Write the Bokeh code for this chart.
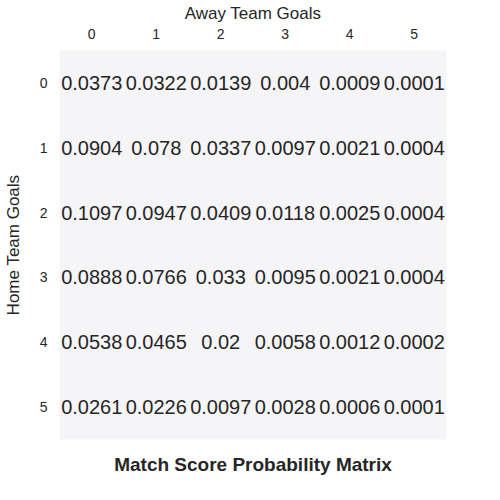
from bokeh.plotting import figure
from bokeh.models import ColumnDataSource, FactorRange
from bokeh.core.properties import value
from bokeh.embed import file_html
from bokeh.resources import INLINE

home_goals = ['0', '1', '2', '3', '4', '5']
away_goals = ['0', '1', '2', '3', '4', '5']
probs = [
    [0.0373, 0.0322, 0.0139, 0.004, 0.0009, 0.0001],
    [0.0904, 0.078, 0.0337, 0.0097, 0.0021, 0.0004],
    [0.1097, 0.0947, 0.0409, 0.0118, 0.0025, 0.0004],
    [0.0888, 0.0766, 0.033, 0.0095, 0.0021, 0.0004],
    [0.0538, 0.0465, 0.02, 0.0058, 0.0012, 0.0002],
    [0.0261, 0.0226, 0.0097, 0.0028, 0.0006, 0.0001],
]

xs, ys, labels = [], [], []
for i, h in enumerate(home_goals):
    for j, a in enumerate(away_goals):
        xs.append(a)
        ys.append(h)
        labels.append(str(probs[i][j]))
source = ColumnDataSource(dict(x=xs, y=ys, label=labels))

FONT = "Liberation Sans"
p = figure(width=484, height=484, output_backend="svg", toolbar_location=None,
           x_range=FactorRange(*away_goals), y_range=FactorRange(*reversed(home_goals)),
           x_axis_location="above", title="Match Score Probability Matrix",
           title_location="below", frame_width=387, frame_height=389,
           min_border_left=14, min_border_top=5, min_border_bottom=2)
p.background_fill_color = "#f5f5f7"
p.border_fill_color = "white"
p.outline_line_color = None
p.grid.grid_line_color = None

p.text(x='x', y='y', text='label', source=source, text_align='center',
       text_baseline='middle', text_font=value(FONT), text_font_size='20px',
       text_color='#262626')

p.xaxis.axis_label = "Away Team Goals"
p.yaxis.axis_label = "Home Team Goals"
for ax in (p.xaxis[0], p.yaxis[0]):
    ax.axis_line_color = None
    ax.major_tick_line_color = None
    ax.minor_tick_line_color = None
    ax.major_label_text_font = FONT
    ax.major_label_text_font_size = "14px"
    ax.major_label_text_color = "#262626"
    ax.axis_label_text_font = FONT
    ax.axis_label_text_font_size = "17px"
    ax.axis_label_text_font_style = "normal"
    ax.axis_label_text_color = "#262626"
    ax.major_label_standoff = 6
    ax.axis_label_standoff = 3
p.yaxis.major_label_orientation = 0
p.yaxis.axis_label_standoff = 14

p.title.text_font = FONT
p.title.text_font_size = "19px"
p.title.text_font_style = "bold"
p.title.text_color = "#262626"
p.title.align = "center"
p.title.offset = 0
p.title.standoff = 24

open("out.html", "w").write(file_html(p, INLINE))
